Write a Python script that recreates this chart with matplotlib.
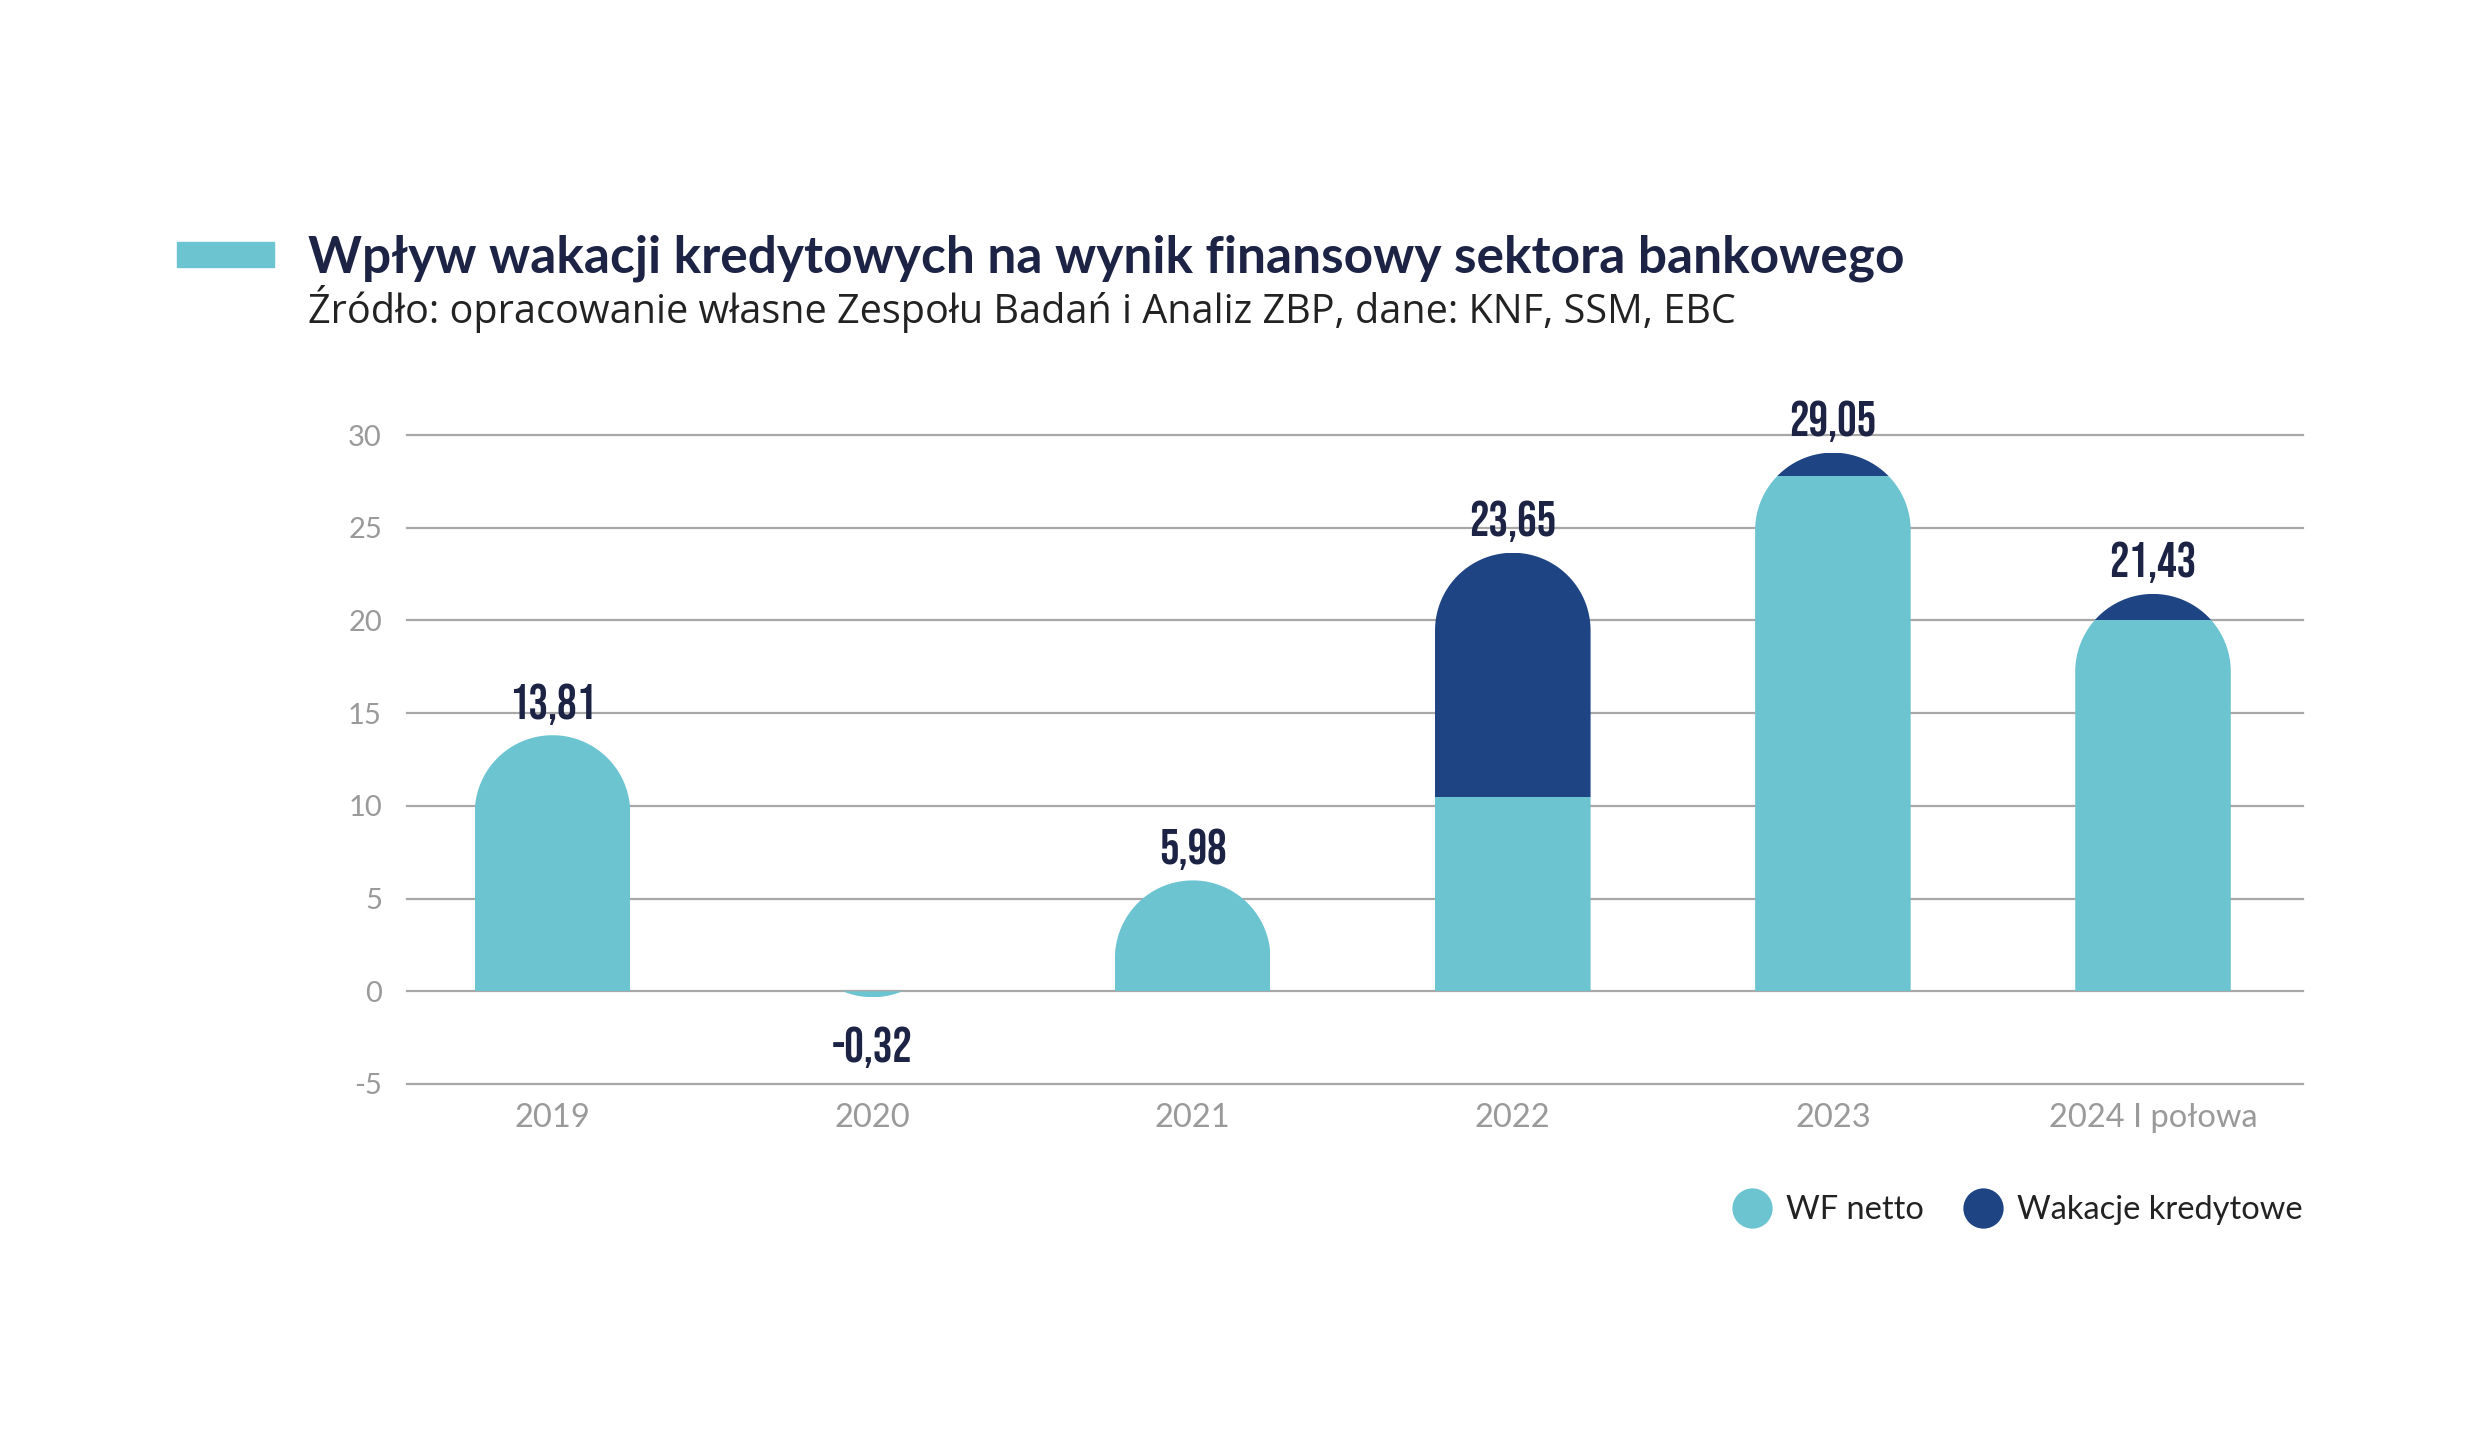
import numpy as np
import matplotlib.pyplot as plt
from matplotlib.patches import Polygon, Rectangle
from matplotlib.lines import Line2D

# Data (mld zł)
categories = ["2019", "2020", "2021", "2022", "2023", "2024 I połowa"]
wf_netto = [13.81, -0.32, 5.98, 10.50, 27.80, 20.00]
wakacje = [0.0, 0.0, 0.0, 13.15, 1.25, 1.43]
totals = np.add(wf_netto, wakacje)

title = "Wpływ wakacji kredytowych na wynik finansowy sektora bankowego"
subtitle = "Źródło: opracowanie własne Zespołu Badań i Analiz ZBP, dane: KNF, SSM, EBC"

teal = "#6cc4d1"
navy = "#1f4483"
label_col = "#1d2345"
grid_col = "#a8a8a8"

plt.rcParams["font.family"] = ["Lato", "DejaVu Sans"]
plt.rcParams["axes.unicode_minus"] = False
num_font = ["Bebas Neue", "DejaVu Sans"]

fig = plt.figure(figsize=(24.8, 14.55), dpi=100)
W_PX, H_PX = 2480, 1455

# axes placed where the plot area sits in the reference
left, right, top, bottom = 407, 2303, 435, 1084
ax = fig.add_axes([left / W_PX, 1 - bottom / H_PX,
                   (right - left) / W_PX, (bottom - top) / H_PX])

xmin, xmax = -0.4545, 5.4686
ymin, ymax = -5, 30
ax.set_xlim(xmin, xmax)
ax.set_ylim(ymin, ymax)

bar_w = 0.486
rx = bar_w / 2
px_x = (right - left) / (xmax - xmin)
px_y = (bottom - top) / (ymax - ymin)
ry = rx * px_x / px_y  # round cap in screen space


def capsule(xc, v):
    # bar outline with a half-round end, cut at the zero line
    t = np.linspace(np.pi, 0, 80)
    s = 1 if v >= 0 else -1
    cy = v - s * ry
    xs = np.concatenate([[xc - rx], xc + rx * np.cos(t), [xc + rx]])
    ys = np.concatenate([[0], cy + s * ry * np.sin(t), [0]])
    ys = np.maximum(ys, 0) if s > 0 else np.minimum(ys, 0)
    return Polygon(np.column_stack([xs, ys]), closed=True,
                   transform=ax.transData, facecolor="none", edgecolor="none")


x = np.arange(len(categories))
b1 = ax.bar(x, wf_netto, width=bar_w, color=teal, zorder=2)
b2 = ax.bar(x, wakacje, width=bar_w, bottom=wf_netto, color=navy, zorder=2)
for i in range(len(x)):
    clip = capsule(x[i], totals[i])
    b1[i].set_clip_path(clip)
    b2[i].set_clip_path(clip)

# value labels
for i in range(len(x)):
    lbl = f"{totals[i]:.2f}".replace(".", ",")
    if totals[i] >= 0:
        ax.annotate(lbl, (x[i], totals[i]), xytext=(0, 12), textcoords="offset points",
                    ha="center", va="baseline", fontsize=35, color=label_col,
                    family=num_font)
    else:
        ax.annotate(lbl, (x[i], totals[i]), xytext=(0, -21), textcoords="offset points",
                    ha="center", va="top", fontsize=35, color=label_col,
                    family=num_font)

ax.set_yticks(range(-5, 31, 5))
ax.set_xticks(x)
ax.set_xticklabels(categories)
ax.tick_params(axis="y", length=0, pad=18, labelsize=21, labelcolor="#9a9a9a")
ax.tick_params(axis="x", length=0, pad=14, labelsize=23.5, labelcolor="#9a9a9a")
ax.grid(axis="y", color=grid_col, linewidth=1.6)
ax.set_axisbelow(True)
for gl in ax.get_ygridlines():
    gl.set_clip_on(False)
for sp in ax.spines.values():
    sp.set_visible(False)

# title block
fig.patches.append(Rectangle((177 / W_PX, 1 - 267 / H_PX), 97 / W_PX, 25 / H_PX,
                             transform=fig.transFigure, color=teal))
fig.text(308 / W_PX, 1 - 272 / H_PX, title, fontsize=37, fontweight="bold",
         color=label_col, va="baseline", ha="left")
fig.text(308 / W_PX, 1 - 323 / H_PX, subtitle, fontsize=28.5,
         color="#222222", va="baseline", ha="left",
         family=["Open Sans", "Lato", "DejaVu Sans"])

# legend
handles = [Line2D([], [], marker="o", ls="none", markersize=29,
                  markerfacecolor=teal, markeredgecolor="none"),
           Line2D([], [], marker="o", ls="none", markersize=29,
                  markerfacecolor=navy, markeredgecolor="none")]
fig.legend(handles, ["WF netto", "Wakacje kredytowe"], loc="center right",
           bbox_to_anchor=(right / W_PX, 1 - 1210 / H_PX), ncol=2, frameon=False,
           fontsize=23.5, handletextpad=0.45, columnspacing=1.2, handlelength=1.2,
           borderaxespad=0, borderpad=0, labelcolor="#222222")

fig.savefig("out.png", dpi=100, facecolor="white")
